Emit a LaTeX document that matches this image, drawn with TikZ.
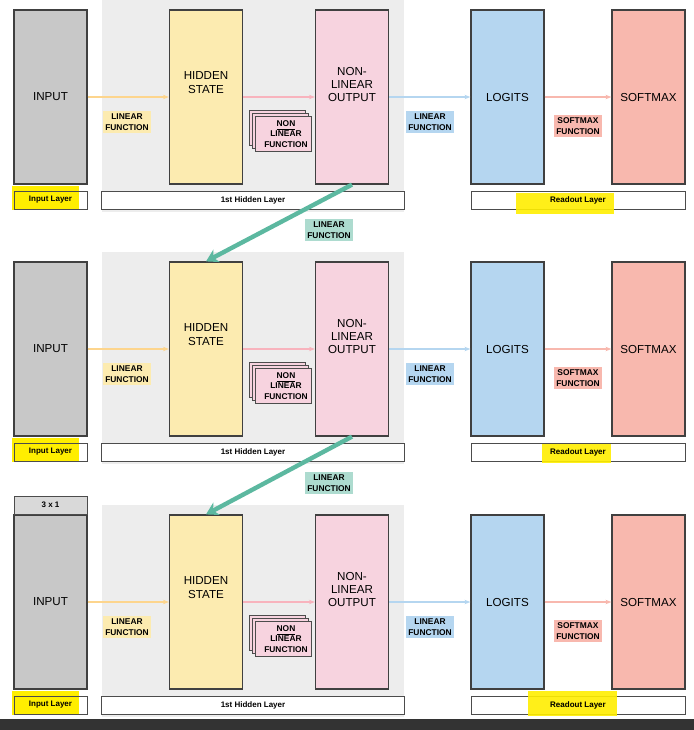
\documentclass[tikz,border=0pt]{standalone}
\usepackage{fontspec}
\setmainfont{Liberation Sans}
\usetikzlibrary{arrows.meta}

\definecolor{inGray}{HTML}{C8C8C8}
\definecolor{hidYel}{HTML}{FCEBB0}
\definecolor{nlPink}{HTML}{F7D3DF}
\definecolor{logBlue}{HTML}{B5D6F0}
\definecolor{smSalmon}{HTML}{F8B8AE}
\definecolor{bgGray}{HTML}{EDEDED}
\definecolor{tealA}{HTML}{5CB8A0}
\definecolor{hiYel}{HTML}{FFEE00}

\tikzset{
  layerbox/.style={draw=black!75, line width=0.6pt, minimum width=36.5pt, minimum height=87pt, inner sep=0pt, font=\fontsize{5.8}{6.6}\selectfont, align=center},
  tagbox/.style={draw=black!70, fill=white, line width=0.5pt, minimum height=9pt, inner sep=0pt, font=\fontsize{4}{4.5}\selectfont\bfseries},
  fnlabel/.style={inner sep=1.2pt, font=\fontsize{4.2}{5.2}\selectfont\bfseries, align=center},
  flow/.style={line width=1.3pt, -{Stealth[length=3pt]}}
}

\begin{document}
\begin{tikzpicture}[x=0.5pt, y=-0.5pt]
\useasboundingbox (0,0) rectangle (694,730);
\fill[black!80] (0,719) rectangle (694,730);

\foreach \r/\dy in {1/0, 2/252, 3/505}{
  \begin{scope}[yshift=-\dy*0.5pt]
  % background of the hidden layer
  \fill[bgGray] (102,0) rectangle (404,212);
  \node[layerbox, fill=inGray] (in\r) at (50.5,97) {INPUT};
  \node[layerbox, fill=hidYel] (hid\r) at (206,97) {HIDDEN\\STATE\\[8pt]};
  \node[layerbox, fill=nlPink] (nl\r) at (352,97) {NON-\\LINEAR\\OUTPUT\\[6pt]};
  \node[layerbox, fill=logBlue] (log\r) at (507.5,97) {LOGITS};
  \node[layerbox, fill=smSalmon] (sm\r) at (648.5,97) {SOFTMAX};

  \draw[flow, hidYel!80!orange] (in\r) -- (hid\r);
  \draw[flow, nlPink!85!red] (hid\r) -- (nl\r);
  \draw[flow, logBlue] (nl\r) -- (log\r);
  \draw[flow, smSalmon] (log\r) -- (sm\r);

  \node[fnlabel, fill=hidYel] (lf\r) at (127,122) {LINEAR\\FUNCTION};
  \node[fnlabel, fill=logBlue] (lb\r) at (430,122) {LINEAR\\FUNCTION};
  \node[fnlabel, fill=smSalmon] (sf\r) at (578,126) {SOFTMAX\\FUNCTION};
  % stacked non linear function cards
  \foreach \k in {0,1,2}
    \draw[fill=nlPink, draw=black!70, line width=0.4pt] (249+3*\k,110+3*\k) rectangle (305+3*\k,145+3*\k);
  \node[fnlabel, inner sep=0pt] (nf\r) at (286,134) {\underline{NON}\\LINEAR\\FUNCTION};

  % layer tags
  \fill[hiYel] (12,186) rectangle (79,210);
  \node[tagbox, fill=none, minimum width=36.5pt] (tin\r) at (50.5,200) {Input Layer};
  \node[tagbox, minimum width=151.5pt] (thid\r) at (253,200) {1st Hidden Layer};
  \node[tagbox, minimum width=107pt] (tro\r) at (578,200) {Readout Layer};
  \end{scope}
}
% highlights on the readout tags
\fill[hiYel, opacity=0.9] (516,193) rectangle (614,214);
\fill[hiYel, opacity=0.9] (542,444) rectangle (611,463);
\fill[hiYel, opacity=0.9] (528,691) rectangle (617,716);
\foreach \r/\dy in {1/0, 2/252, 3/505}
  \node[font=\fontsize{4}{4.5}\selectfont\bfseries] at (578,200+\dy) {Readout Layer};

% links between the rows
\draw[tealA, line width=2.2pt, -{Stealth[length=6pt,width=7pt]}] (nl1.south) -- (hid2.north);
\node[fnlabel, fill=tealA!50] (tl1) at (329,230) {LINEAR\\FUNCTION};
\draw[tealA, line width=2.2pt, -{Stealth[length=6pt,width=7pt]}] (nl2.south) -- (hid3.north);
\node[fnlabel, fill=tealA!50] (tl2) at (329,483) {LINEAR\\FUNCTION};

\node[tagbox, fill=inGray!70, minimum width=36.5pt] (dim) at (50.5,505) {3 x 1};
\end{tikzpicture}
\end{document}
